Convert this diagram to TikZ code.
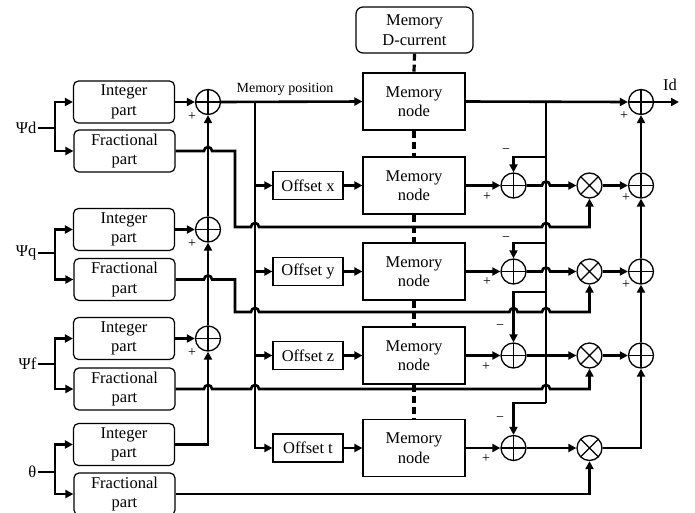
\documentclass[tikz,border=0pt]{standalone}
\usepackage{fontspec}
\setmainfont{Liberation Serif}
\usetikzlibrary{arrows.meta,calc}
\begin{document}
\begin{tikzpicture}[x=1pt,y=-1pt,
  every node/.style={font=\fontsize{16.5}{19.5}\selectfont},
  rbox/.style={draw, rounded corners=5pt, line width=1.2pt, minimum width=101pt, minimum height=42pt, inner sep=0pt, align=center},
  obox/.style={draw, line width=1.2pt, minimum width=70pt, minimum height=28pt, inner sep=0pt},
  mbox/.style={draw, line width=1.2pt, minimum width=102pt, minimum height=57pt, inner sep=0pt, align=center},
  sumc/.style={circle, draw, line width=1.3pt, minimum size=25pt, inner sep=0pt, path picture={\draw[line width=1.2pt] (path picture bounding box.north) -- (path picture bounding box.south) (path picture bounding box.west) -- (path picture bounding box.east);}},
  mulc/.style={circle, draw, line width=1.3pt, minimum size=25pt, inner sep=0pt, path picture={\draw[line width=1.2pt] (path picture bounding box.north west) -- (path picture bounding box.south east) (path picture bounding box.north east) -- (path picture bounding box.south west);}},
  conn/.style={line width=2.6pt},
  arr/.style={conn, -{Triangle[length=8pt,width=8pt]}},
  sgn/.style={font=\fontsize{14}{14}\selectfont, inner sep=0pt},
  lbl/.style={inner sep=1.5pt, anchor=east},
  dsh/.style={line width=3.2pt, dash pattern=on 7pt off 4pt},
]
\useasboundingbox (0,0) rectangle (695,512);

% left boxes
\node[rbox] (i1) at (124,102) {Integer\\part};
\node[rbox] (f1) at (124.5,151) {Fractional\\part};
\node[rbox] (i2) at (124,229.5) {Integer\\part};
\node[rbox] (f2) at (124.5,279.5) {Fractional\\part};
\node[rbox] (i3) at (124,338.5) {Integer\\part};
\node[rbox] (f3) at (124.5,389) {Fractional\\part};
\node[rbox] (i4) at (124,444.5) {Integer\\part};
\node[rbox] (f4) at (124.5,494) {Fractional\\part};

% inputs
\node[lbl] (pd) at (38,128) {Ψd};
\node[lbl] (pq) at (38,253) {Ψq};
\node[lbl] (pf) at (38,364) {Ψf};
\node[lbl] (th) at (38,472) {θ};
\coordinate (bd) at (55,128);
\coordinate (bq) at (55,253);
\coordinate (bf) at (55,364);
\coordinate (bt) at (55,472);
\draw[conn] (pd.east) -- (bd);
\draw[conn] (pq.east) -- (bq);
\draw[conn] (pf.east) -- (bf);
\draw[conn] (th.east) -- (bt);
\draw[arr] (bd) |- (i1.west);
\draw[arr] (bd) |- (f1.west);
\draw[arr] (bq) |- (i2.west);
\draw[arr] (bq) |- (f2.west);
\draw[arr] (bf) |- (i3.west);
\draw[arr] (bf) |- (f3.west);
\draw[arr] (bt) |- (i4.west);
\draw[arr] (bt) |- (f4.west);

% left adders
\node[sumc] (a1) at (208,102) {};
\node[sumc] (a2) at (208,229.5) {};
\node[sumc] (a3) at (208,338.5) {};
\draw[arr] (i1.east) -- (a1.west);
\draw[arr] (i2.east) -- (a2.west);
\draw[arr] (i3.east) -- (a3.west);
\draw[arr] (i4.east) -| (a3.south);
\draw[arr] (a3.north) -- (a2.south);
\draw[arr] (a2.north) -- (a1.south);
\node[sgn] at (192,117) {+};
\node[sgn] at (192,244) {+};
\node[sgn] at (192,353) {+};

% memory column
\node[rbox, minimum width=117pt, minimum height=46pt, rounded corners=7pt] (dc) at (414.5,30) {Memory\\D-current};
\node[mbox] (n1) at (414,101.5) {Memory\\node};
\node[mbox] (n2) at (414,185.5) {Memory\\node};
\node[mbox] (n3) at (414,271.5) {Memory\\node};
\node[mbox] (n4) at (414,355.5) {Memory\\node};
\node[mbox] (n5) at (414,448) {Memory\\node};
\draw[dsh] (dc.south) -- (n1.north);
\draw[dsh] (n1.south) -- (n2.north);
\draw[dsh] (n2.south) -- (n3.north);
\draw[dsh] (n3.south) -- (n4.north);
\draw[dsh] (n4.south) -- (n5.north);

\node[obox] (ox) at (308,185.5) {Offset x};
\node[obox] (oy) at (308,271.5) {Offset y};
\node[obox] (oz) at (308,355.5) {Offset z};
\node[obox] (ot) at (308,448) {Offset t};

\draw[arr] (a1.east) -- (n1.west);
\node[font=\fontsize{14}{14}\selectfont, inner sep=0pt] (mpl) at (285,89) {Memory position};
\coordinate (mp) at (255,102);
\draw[arr] (mp) |- (ox.west);
\draw[arr] (mp) |- (oy.west);
\draw[arr] (mp) |- (oz.west);
\draw[arr] (mp) |- (ot.west);
\draw[arr] (ox.east) -- (n2.west);
\draw[arr] (oy.east) -- (n3.west);
\draw[arr] (oz.east) -- (n4.west);
\draw[arr] (ot.east) -- (n5.west);

% right part
\node[sumc] (s1) at (513.5,185.5) {};
\node[sumc] (s2) at (513.5,271.5) {};
\node[sumc] (s3) at (513.5,355.5) {};
\node[sumc] (s4) at (513.5,448) {};
\node[mulc] (m1) at (589.5,185.5) {};
\node[mulc] (m2) at (589.5,271.5) {};
\node[mulc] (m3) at (589.5,355.5) {};
\node[mulc] (m4) at (589.5,448) {};
\node[sumc] (o1) at (641,102) {};
\node[sumc] (o2) at (641,185.5) {};
\node[sumc] (o3) at (641,271.5) {};
\node[sumc] (o4) at (641,355.5) {};

\draw[arr] (n1.east) -- (o1.west);
\coordinate (jr) at (546,102);
\coordinate (b1) at (546,157);
\coordinate (b2) at (546,243);
\coordinate (b3) at (546,292);
\coordinate (b4) at (546,403);
\draw[conn] (jr) -- (b4);
\draw[arr] (b1) -| (s1.north);
\draw[arr] (b2) -| (s2.north);
\draw[arr] (b3) -| (s3.north);
\draw[arr] (b4) -| (s4.north);

\draw[arr] (n2.east) -- (s1.west);
\draw[arr] (n3.east) -- (s2.west);
\draw[arr] (n4.east) -- (s3.west);
\draw[arr] (n5.east) -- (s4.west);

\draw[arr] (s1.east) -- (542,185.5) arc[start angle=180,end angle=360,radius=4] -- (m1.west);
\draw[arr] (s2.east) -- (542,271.5) arc[start angle=180,end angle=360,radius=4] -- (m2.west);
\draw[arr] (s3.east) -- (m3.west);
\draw[arr] (s4.east) -- (m4.west);

\draw[arr] (m1.east) -- (o2.west);
\draw[arr] (m2.east) -- (o3.west);
\draw[arr] (m3.east) -- (o4.west);
\draw[arr] (m4.east) -| (o4.south);
\draw[arr] (o4.north) -- (o3.south);
\draw[arr] (o3.north) -- (o2.south);
\draw[arr] (o2.north) -- (o1.south);
\coordinate (out) at (679,102);
\draw[arr] (o1.east) -- (out);
\node (idl) at (670,85) {Id};

% fractional lines
\draw[arr] (f1.east) -- (204,151) arc[start angle=180,end angle=360,radius=4] -- (235,151) -- (235,227)
  -- (251,227) arc[start angle=180,end angle=360,radius=4]
  -- (542,227) arc[start angle=180,end angle=360,radius=4] -| (m1.south);
\draw[arr] (f2.east) -- (204,279.5) arc[start angle=180,end angle=360,radius=4] -- (235,279.5) -- (235,312)
  -- (251,312) arc[start angle=180,end angle=360,radius=4]
  -- (509.5,312) arc[start angle=180,end angle=360,radius=4]
  -- (542,312) arc[start angle=180,end angle=360,radius=4] -| (m2.south);
\draw[arr] (f3.east) -- (204,389) arc[start angle=180,end angle=360,radius=4]
  -- (251,389) arc[start angle=180,end angle=360,radius=4]
  -- (542,389) arc[start angle=180,end angle=360,radius=4] -| (m3.south);
\draw[arr] (f4.east) -| (m4.south);

% signs
\node[sgn] at (487,197) {+};
\node[sgn] at (487,282) {+};
\node[sgn] at (486,367) {+};
\node[sgn] at (486,459) {+};
\node[sgn] at (506,151) {−};
\node[sgn] at (506,239) {−};
\node[sgn] at (500,327) {−};
\node[sgn] at (500,419) {−};
\node[sgn] at (624,116) {+};
\node[sgn] at (626,198) {+};
\node[sgn] at (626,285) {+};
\end{tikzpicture}
\end{document}
